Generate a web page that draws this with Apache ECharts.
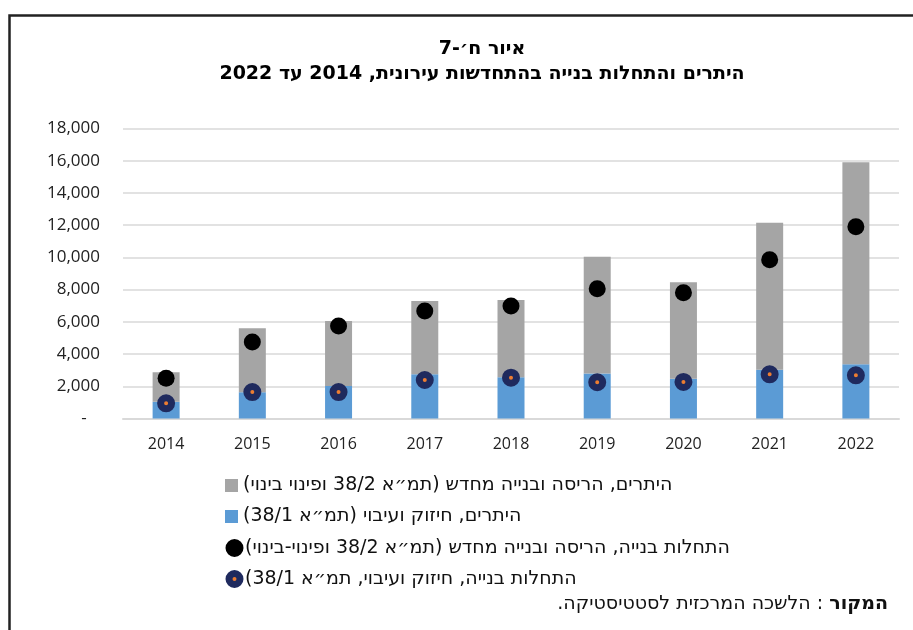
<!DOCTYPE html>
<html>
<head>
<meta charset="utf-8">
<script src="https://cdn.jsdelivr.net/npm/echarts@6/dist/echarts.min.js"></script>
<style>
html,body{margin:0;padding:0;background:#fff;}
#c{width:913px;height:630px;}
</style>
</head>
<body>
<div id="c"></div>
<script>
const years = ['2014','2015','2016','2017','2018','2019','2020','2021','2022'];
const permitsDemolition = [1830, 3970, 4030, 4560, 4800, 7240, 5980, 9120, 12540]; // stacked on top of strengthening
const permitsStrengthen = [1040, 1630, 2020, 2740, 2560, 2800, 2470, 3030, 3360];
const startsDemolition = [2500, 4750, 5740, 6670, 6980, 8060, 7810, 9860, 11900];
const startsStrengthen = [940, 1640, 1640, 2390, 2530, 2250, 2270, 2740, 2680];

const RLM = '\u200F';
const rtl = s => RLM + s + RLM;

const nameGray = 'היתרים, הריסה ובנייה מחדש (תמ״א 38/2 ופינוי בינוי)';
const nameBlue = 'היתרים, חיזוק ועיבוי (תמ״א 38/1)';
const nameBlack = 'התחלות בנייה, הריסה ובנייה מחדש (תמ״א 38/2 ופינוי-בינוי)';
const nameNavy = 'התחלות בנייה, חיזוק ועיבוי, תמ״א 38/1)';
const titleLine1 = 'איור ח׳-7';
const titleLine2 = 'היתרים והתחלות בנייה בהתחדשות עירונית, 2014 עד 2022';
const sourceBold = 'המקור';
const sourceRest = ' : הלשכה המרכזית לסטטיסטיקה.';

const FONT = "'Open Sans', 'Liberation Sans', 'DejaVu Sans', sans-serif";
const HFONT = "'DejaVu Sans', sans-serif";
const NAVY = '#1F2A5E';

const chart = echarts.init(document.getElementById('c'), null, {renderer:'canvas'});
chart.setOption({
  animation: false,
  backgroundColor: '#fff',
  textStyle: {fontFamily: FONT},
  title: {
    text: rtl(titleLine1) + '\n' + rtl(titleLine2),
    left: 477, top: 32, textAlign: 'center',
    textStyle: {fontSize: 19, fontWeight: 'bold', color: '#000', lineHeight: 25, fontFamily: HFONT}
  },
  grid: {left: 123, right: 14, top: 128.5, bottom: 211.5, containLabel: false},
  xAxis: {
    type: 'category', data: years,
    axisLine: {lineStyle: {color: '#D9D9D9', width: 2}},
    axisTick: {show: false},
    axisLabel: {fontSize: 16, color: '#222', margin: 18, fontFamily: FONT}
  },
  yAxis: {
    type: 'value', min: 0, max: 18000, interval: 2000,
    axisLine: {show: false}, axisTick: {show: false},
    splitLine: {lineStyle: {color: '#D9D9D9', width: 1.5}},
    axisLabel: {
      fontSize: 17, color: '#222', margin: 23, fontFamily: FONT,
      formatter: v => v === 0 ? '-   ' : v.toLocaleString('en-US')
    }
  },
  legend: [
    {
      orient: 'vertical', left: 220, top: 471, itemWidth: 13, itemHeight: 13, itemGap: 12,
      textStyle: {fontSize: 19, color: '#111', fontFamily: HFONT},
      formatter: n => rtl(n),
      data: [{name: nameGray, icon: 'rect'}, {name: nameBlue, icon: 'rect'}]
    },
    {
      orient: 'vertical', left: 220.5, top: 533.5, itemWidth: 11, itemHeight: 11, itemGap: 12,
      textStyle: {fontSize: 19, color: '#111', fontFamily: HFONT},
      formatter: n => rtl(n),
      data: [
        {name: nameBlack, icon: 'circle', itemStyle: {color: '#000', borderColor: '#000', borderWidth: 7}},
        {name: nameNavy, icon: 'circle', itemStyle: {color: '#ED7D31', borderColor: NAVY, borderWidth: 7}}
      ]
    }
  ],
  series: [
    {
      name: nameBlue, type: 'bar', stack: 'p', data: permitsStrengthen, barWidth: 27,
      itemStyle: {color: '#5B9BD5'}
    },
    {
      name: nameGray, type: 'bar', stack: 'p', data: permitsDemolition, barWidth: 27,
      itemStyle: {color: '#A5A5A5'}
    },
    {
      name: nameBlack, type: 'scatter', data: startsDemolition, symbol: 'circle', symbolSize: 17,
      itemStyle: {color: '#000', opacity: 1}, z: 5
    },
    {
      name: nameNavy, type: 'scatter', data: startsStrengthen, symbol: 'circle', symbolSize: 11,
      itemStyle: {color: '#ED7D31', borderColor: NAVY, borderWidth: 7, opacity: 1}, z: 6
    }
  ],
  graphic: [
    {
      type: 'rect', left: 7, top: 13, silent: true,
      shape: {x: 0, y: 0, width: 930, height: 650},
      style: {fill: 'none', stroke: '#222', lineWidth: 2.5}
    },
    {
      type: 'text', right: 25, top: 595,
      style: {
        text: '{n|' + rtl(sourceRest) + '}{b|' + rtl(sourceBold) + '}',
        rich: {
          n: {fontSize: 19, fontFamily: HFONT, fill: '#111'},
          b: {fontSize: 19, fontFamily: HFONT, fontWeight: 'bold', fill: '#111'}
        }
      }
    }
  ]
});
</script>
</body>
</html>
